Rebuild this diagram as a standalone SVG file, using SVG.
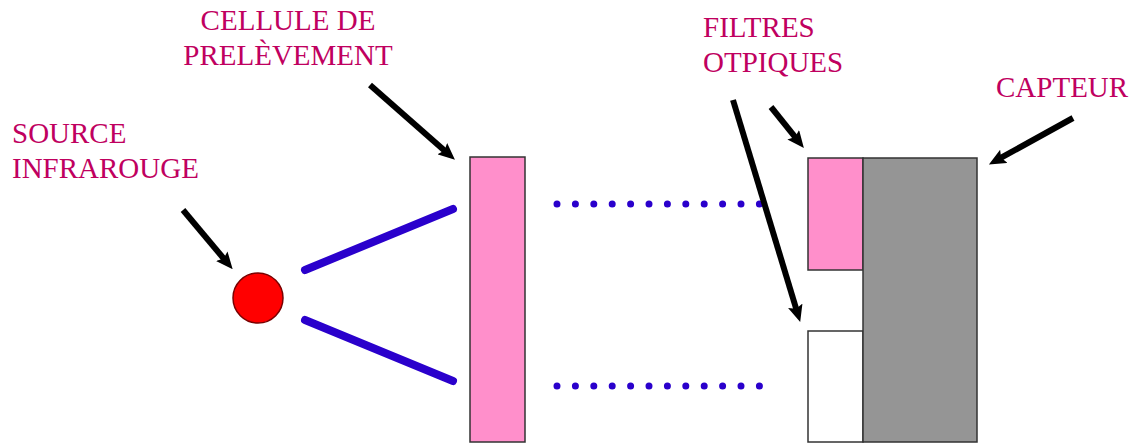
<svg xmlns="http://www.w3.org/2000/svg" width="1130" height="443" viewBox="0 0 1130 443">
<style>
.lbl{font-family:"Liberation Serif","Times New Roman",serif;font-size:29px;fill:#C0005F}
.ray{stroke:#2A00CC;stroke-width:8;stroke-linecap:round;fill:none}
.dots{stroke:#2A00CC;stroke-width:7;stroke-linecap:round;stroke-dasharray:0 18.4;fill:none}
.arr{stroke:#000;stroke-width:6;fill:none;marker-end:url(#ah)}
.box{stroke:#333;stroke-width:1.5}
</style>
<defs>
<marker id="ah" viewBox="0 0 17 15" markerWidth="17" markerHeight="15" markerUnits="userSpaceOnUse" refX="6" refY="7.5" orient="auto">
<path d="M0,0 L17,7.5 L0,15 L3,7.5 z" fill="#000"/>
</marker>
</defs>
<rect width="1130" height="443" fill="#fff"/>
<g id="source">
<circle cx="258" cy="298" r="25" fill="#FF0000" stroke="#7A0000" stroke-width="1.5"/>
<text class="lbl" x="12" y="143">SOURCE</text>
<text class="lbl" x="12" y="178">INFRAROUGE</text>
</g>
<g id="cellule">
<rect class="box" x="470" y="157" width="55" height="285" fill="#FF8FCB"/>
<text class="lbl" x="288" y="30" text-anchor="middle">CELLULE DE</text>
<text class="lbl" x="288" y="65" text-anchor="middle">PRELÈVEMENT</text>
</g>
<g id="filtres">
<rect class="box" x="808" y="158" width="55" height="112" fill="#FF8FCB"/>
<rect class="box" x="808" y="331" width="55" height="111" fill="#FFFFFF"/>
<text class="lbl" x="703" y="37">FILTRES</text>
<text class="lbl" x="703" y="72">OTPIQUES</text>
</g>
<g id="capteur">
<rect class="box" x="863" y="158" width="114" height="284" fill="#959595"/>
<text class="lbl" x="996" y="97">CAPTEUR</text>
</g>
<g id="connectors">
<line class="ray" x1="305" y1="270" x2="453" y2="209"/>
<line class="ray" x1="305" y1="320" x2="453" y2="381"/>
<line class="dots" x1="557" y1="204" x2="760.5" y2="204"/>
<line class="dots" x1="557" y1="386" x2="760.5" y2="386"/>
<line class="arr" x1="183" y1="210" x2="225.6" y2="260.8"/>
<line class="arr" x1="370" y1="85" x2="446.7" y2="152.6"/>
<line class="arr" x1="771" y1="107" x2="797" y2="139.4"/>
<line class="arr" x1="733" y1="100" x2="797" y2="311.5"/>
<line class="arr" x1="1073" y1="118" x2="998.5" y2="159.2"/>
</g>
</svg>
